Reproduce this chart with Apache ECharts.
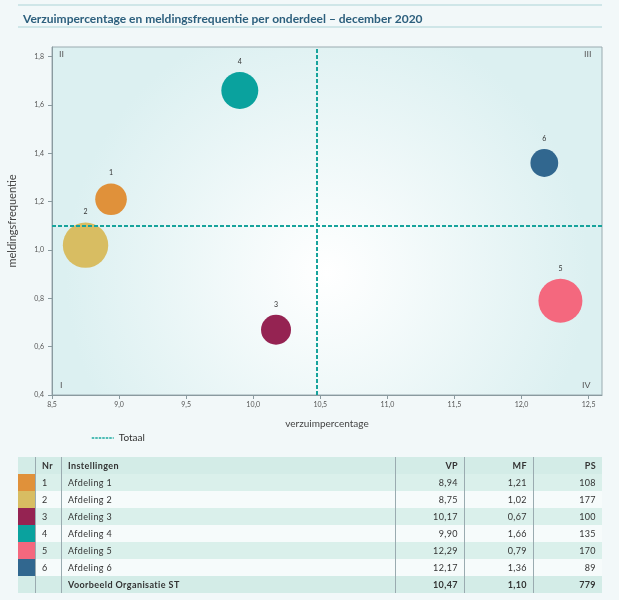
<!DOCTYPE html>
<html style="height: 100%">
<head>
    <meta charset="utf-8">
    <style>
        body { margin: 0; background: #f2f8f9; font-family: Lato, "Open Sans", sans-serif; }
        #container { position: absolute; left: 0; top: 0; width: 619px; height: 600px; }
        #tbl { position: absolute; left: 18px; top: 457px; width: 584px; border-collapse: collapse; font-size: 9px; color: #333; letter-spacing: 0.4px; }
        #tbl td { height: 17px; padding: 0 6px; line-height: 17px; }
        #tbl td.sw { width: 17px; padding: 0; border-right: 1px solid #9aabb0; }
        #tbl td.nr { width: 13px; border-right: 1px solid #9aabb0; }
        #tbl td.num { width: 56px; text-align: right; padding-right: 6px; }
        #tbl td.sep { border-left: 1px solid #9aabb0; }
        #tbl tr.dark td { background: #daf0eb; }
        #tbl tr.light td { background: #f6fbfb; }
        #tbl tr.head td, #tbl tr.total td { font-weight: bold; background: #d3ece7; }
    </style>
</head>
<body>
<div id="container"></div>
<table id="tbl"></table>
<script src="https://cdn.jsdelivr.net/npm/echarts@6/dist/echarts.min.js"></script>
<script type="text/javascript">
    // data from the table
    const nrs = [1, 2, 3, 4, 5, 6];
    const names = ['Afdeling 1', 'Afdeling 2', 'Afdeling 3', 'Afdeling 4', 'Afdeling 5', 'Afdeling 6'];
    const vp = [8.94, 8.75, 10.17, 9.90, 12.29, 12.17];
    const mf = [1.21, 1.02, 0.67, 1.66, 0.79, 1.36];
    const ps = [108, 177, 100, 135, 170, 89];
    const colors = ['#e0913a', '#d8bd62', '#952352', '#0aa29e', '#f4687e', '#31678f'];
    const totalName = 'Voorbeeld Organisatie ST';
    const totalVP = 10.47;
    const totalMF = 1.10;
    const totalPS = 779;

    const fmt = function (v, d) { return v.toFixed(d).replace('.', ','); };

    var dom = document.getElementById("container");
    var myChart = echarts.init(dom);

    const points = [];
    for (let i = 0; i < nrs.length; i++) {
        points.push({
            value: [vp[i], mf[i], ps[i], nrs[i]],
            itemStyle: { color: colors[i], opacity: 1 }
        });
    }

    var option = {
        animation: false,
        textStyle: { fontFamily: 'Lato, "Open Sans", sans-serif' },
        title: {
            text: 'Verzuimpercentage en meldingsfrequentie per onderdeel \u2013 december 2020',
            left: 18, top: 8,
            textStyle: { fontSize: 12, fontWeight: 'bold', color: '#2c5f7d' }
        },
        graphic: [
            { type: 'line', shape: { x1: 18, y1: 5, x2: 602, y2: 5 }, style: { stroke: '#cfe6e8', lineWidth: 2 } },
            { type: 'line', shape: { x1: 18, y1: 27, x2: 602, y2: 27 }, style: { stroke: '#cfe6e8', lineWidth: 2 } },
            { type: 'text', left: 59, top: 50, style: { text: 'II', fontSize: 9, fill: '#555' } },
            { type: 'text', left: 584, top: 50, style: { text: 'III', fontSize: 9, fill: '#555' } },
            { type: 'text', left: 60, top: 381, style: { text: 'I', fontSize: 9, fill: '#555' } },
            { type: 'text', left: 582, top: 381, style: { text: 'IV', fontSize: 9, fill: '#555' } }
        ],
        legend: {
            left: 86, top: 428,
            itemWidth: 22, itemHeight: 10, itemGap: 5,
            textStyle: { fontSize: 10, color: '#333' },
            itemStyle: { opacity: 0 },
            lineStyle: { type: [2.5, 1], width: 1.5, color: '#1aa9a0' },
            data: ['Totaal']
        },
        grid: {
            left: 52, right: 17, top: 47, bottom: 205,
            outerBoundsMode: 'none',
            containLabel: false,
            show: true,
            borderColor: '#9aabb0', borderWidth: 1,
            backgroundColor: {
                type: 'radial', x: 0.5, y: 0.65, r: 0.75,
                colorStops: [{ offset: 0, color: '#ffffff' }, { offset: 1, color: '#dcf0f1' }]
            }
        },
        xAxis: {
            type: 'value',
            min: 8.5, max: 12.6, interval: 0.5,
            name: 'verzuimpercentage',
            nameLocation: 'middle', nameGap: 24,
            nameTextStyle: { fontSize: 10, color: '#444' },
            axisLine: { lineStyle: { color: '#8a9a9f' } },
            axisTick: { length: 4, lineStyle: { color: '#8a9a9f' } },
            axisLabel: {
                fontSize: 7, color: '#555', margin: 6, showMaxLabel: false,
                formatter: function (v) { return fmt(v, 1); }
            },
            splitLine: { show: false }
        },
        yAxis: {
            type: 'value',
            min: 0.4, max: 1.84, interval: 0.2,
            name: 'meldingsfrequentie',
            nameLocation: 'middle', nameGap: 34,
            nameTextStyle: { fontSize: 11, color: '#444' },
            axisLine: { show: true, lineStyle: { color: '#8a9a9f' } },
            axisTick: { show: true, length: 4, lineStyle: { color: '#8a9a9f' } },
            axisLabel: {
                fontSize: 7, color: '#555', margin: 8, showMaxLabel: false,
                formatter: function (v) { return fmt(v, 1); }
            },
            splitLine: { show: false }
        },
        series: [
            {
                type: 'scatter',
                data: points,
                symbolSize: function (d) { return 10 + 0.2 * d[2]; },
                label: {
                    show: true, position: 'top', distance: 7,
                    fontSize: 7, color: '#333',
                    formatter: function (p) { return p.value[3]; }
                }
            },
            {
                type: 'line',
                name: 'Totaal',
                data: [],
                symbol: 'none',
                itemStyle: { color: '#1aa9a0' },
                lineStyle: { type: 'dashed', color: '#1aa9a0', width: 1.5 },
                markLine: {
                    silent: true,
                    symbol: 'none',
                    label: { show: false },
                    lineStyle: { type: [4, 2], color: '#17a39c', width: 2 },
                    data: [{ xAxis: totalVP }, { yAxis: totalMF }]
                }
            }
        ]
    };

    if (option && typeof option === 'object') {
        myChart.setOption(option);
    }

    // table below the chart
    let html = '<tr class="head"><td class="sw"></td><td class="nr">Nr</td><td>Instellingen</td>' +
        '<td class="num sep">VP</td><td class="num sep">MF</td><td class="num sep">PS</td></tr>';
    for (let i = 0; i < nrs.length; i++) {
        html += '<tr class="' + (i % 2 === 0 ? 'dark' : 'light') + '">' +
            '<td class="sw" style="background:' + colors[i] + '"></td>' +
            '<td class="nr">' + nrs[i] + '</td><td>' + names[i] + '</td>' +
            '<td class="num sep">' + fmt(vp[i], 2) + '</td>' +
            '<td class="num sep">' + fmt(mf[i], 2) + '</td>' +
            '<td class="num sep">' + ps[i] + '</td></tr>';
    }
    html += '<tr class="total"><td class="sw"></td><td class="nr"></td><td>' + totalName + '</td>' +
        '<td class="num sep">' + fmt(totalVP, 2) + '</td><td class="num sep">' + fmt(totalMF, 2) + '</td>' +
        '<td class="num sep">' + totalPS + '</td></tr>';
    document.getElementById('tbl').innerHTML = html;
</script>
</body>
</html>
